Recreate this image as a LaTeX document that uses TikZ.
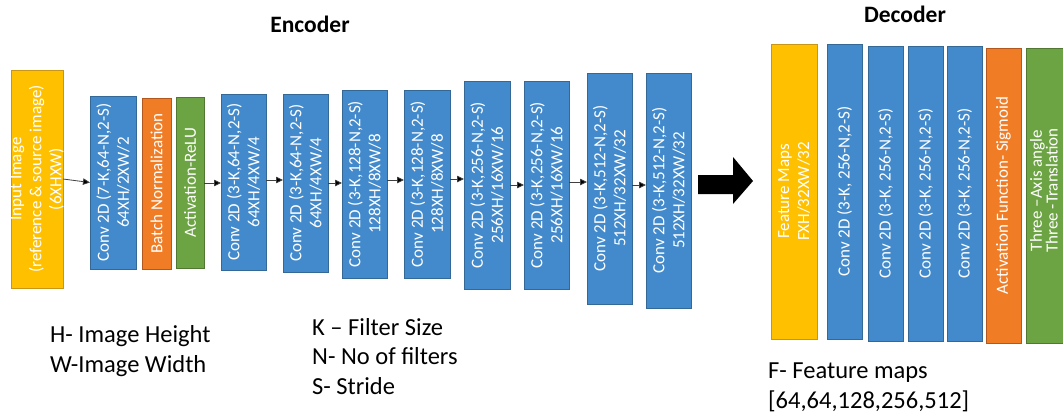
\documentclass[tikz,border=0pt]{standalone}
\usepackage{fontspec}
\setmainfont{Carlito}
\usetikzlibrary{arrows.meta,calc}
\definecolor{bfill}{RGB}{66,138,204}
\definecolor{bdraw}{RGB}{52,104,150}
\definecolor{ofill}{RGB}{240,125,38}
\definecolor{odraw}{RGB}{178,88,30}
\definecolor{yfill}{RGB}{255,192,0}
\definecolor{ydraw}{RGB}{200,150,20}
\definecolor{gfill}{RGB}{108,163,67}
\definecolor{gdraw}{RGB}{80,120,50}
\tikzset{
  blk/.style={draw, line width=0.8pt, inner sep=0pt, outer sep=0pt},
  bluebox/.style={blk, fill=bfill, draw=bdraw},
  orangebox/.style={blk, fill=ofill, draw=odraw},
  yellowbox/.style={blk, fill=yfill, draw=ydraw},
  greenbox/.style={blk, fill=gfill, draw=gdraw},
  vtxt/.style={rotate=90, text=white, align=center, inner sep=0pt, font=\fontsize{17}{20}\selectfont},
  arr/.style={draw=black!75, line width=0.8pt, -{Triangle[length=7pt,width=6.5pt,fill=black]}},
  legend/.style={anchor=base west, inner sep=0pt, align=left, font=\fontsize{24.5}{29.5}\selectfont},
  title/.style={anchor=base, inner sep=0pt, font=\fontsize{23.5}{28}\bfseries\selectfont}
}
\begin{document}
\begin{tikzpicture}[x=1pt,y=-1pt]
\useasboundingbox (0,0) rectangle (1063,420);
\clip (0,0) rectangle (1063,420);
\fill[white] (0,0) rectangle (1063,420);

% titles
\node[title] (enc) at (310,33) {Encoder};
\node[title] (dec) at (905,23) {Decoder};

% encoder blocks
\node[yellowbox, minimum width=52pt, minimum height=218pt] (in) at (37,179) {};
\node[vtxt] (tin) at (in.center) {Input Image\\(reference \& source image)\\(6XHXW)};
\node[bluebox, minimum width=46pt, minimum height=173pt] (c1) at (113,182.5) {};
\node[vtxt] (tc1) at (c1.center) {Conv 2D (7-K,64-N,2-S)\\64XH/2XW/2};
\node[orangebox, minimum width=29pt, minimum height=171pt] (bn) at (156.5,183.5) {};
\node[vtxt] (tbn) at (bn.center) {Batch Normalization};
\node[greenbox, minimum width=28pt, minimum height=171pt] (relu) at (190,182.5) {};
\node[vtxt] (trelu) at (relu.center) {Activation-ReLU};
\node[bluebox, minimum width=45pt, minimum height=176pt] (c2) at (243.5,182) {};
\node[vtxt] (tc2) at (c2.center) {Conv 2D (3-K,64-N,2-S)\\64XH/4XW/4};
\node[bluebox, minimum width=45pt, minimum height=178pt] (c3) at (305.5,183) {};
\node[vtxt] (tc3) at (c3.center) {Conv 2D (3-K,64-N,2-S)\\64XH/4XW/4};
\node[bluebox, minimum width=45pt, minimum height=188pt] (c4) at (364.5,184) {};
\node[vtxt] (tc4) at (c4.center) {Conv 2D (3-K,128-N,2-S)\\128XH/8XW/8};
\node[bluebox, minimum width=46pt, minimum height=188pt] (c5) at (427,184) {};
\node[vtxt] (tc5) at (c5.center) {Conv 2D (3-K,128-N,2-S)\\128XH/8XW/8};
\node[bluebox, minimum width=46pt, minimum height=208pt] (c6) at (487,185) {};
\node[vtxt] (tc6) at (c6.center) {Conv 2D (3-K,256-N,2-S)\\256XH/16XW/16};
\node[bluebox, minimum width=45pt, minimum height=208pt] (c7) at (546.5,185) {};
\node[vtxt] (tc7) at (c7.center) {Conv 2D (3-K,256-N,2-S)\\256XH/16XW/16};
\node[bluebox, minimum width=45pt, minimum height=231pt] (c8) at (609.5,188.5) {};
\node[vtxt] (tc8) at (c8.center) {Conv 2D (3-K,512-N,2-S)\\512XH/32XW/32};
\node[bluebox, minimum width=45pt, minimum height=235pt] (c9) at (668.5,190.5) {};
\node[vtxt] (tc9) at (c9.center) {Conv 2D (3-K,512-N,2-S)\\512XH/32XW/32};

% encoder arrows
\draw[arr] (in.east) -- (c1.west);
\draw[arr] (relu.east |- 0,183) -- (c2.west |- 0,183);
\draw[arr] (c2.east |- 0,180) -- (c3.west |- 0,180);
\draw[arr] (c3.east |- 0,183) -- (c4.west |- 0,183);
\draw[arr] (c4.east |- 0,180) -- (c5.west |- 0,180);
\draw[arr] (c5.east |- 0,179) -- (c6.west |- 0,179);
\draw[arr] (c6.east |- 0,185) -- (c7.west |- 0,185);
\draw[arr] (c7.east |- 0,182) -- (c8.west |- 0,182);
\draw[arr] (c8.east |- 0,185) -- (c9.west |- 0,185);

% big arrow
\fill[black] (698,175) -- (733,175) -- (733,157) -- (753,181) -- (733,204) -- (733,194) -- (698,194) -- cycle;

% decoder blocks
\node[yellowbox, minimum width=46pt, minimum height=295pt] (fm) at (794,191.5) {};
\node[vtxt] (tfm) at (fm.center) {Feature Maps\\FXH/32XW/32};
\node[bluebox, minimum width=35pt, minimum height=295pt] (d1) at (844.5,191.5) {};
\node[vtxt] (td1) at (d1.center) {Conv 2D (3-K, 256-N,2-S)};
\node[bluebox, minimum width=35pt, minimum height=295pt] (d2) at (885.5,193.5) {};
\node[vtxt] (td2) at (d2.center) {Conv 2D (3-K, 256-N,2-S)};
\node[bluebox, minimum width=35pt, minimum height=295pt] (d3) at (925.5,193.5) {};
\node[vtxt] (td3) at (d3.center) {Conv 2D (3-K, 256-N,2-S)};
\node[bluebox, minimum width=35pt, minimum height=295pt] (d4) at (964.5,193.5) {};
\node[vtxt] (td4) at (d4.center) {Conv 2D (3-K, 256-N,2-S)};
\node[orangebox, minimum width=35pt, minimum height=295pt] (sig) at (1003.5,195.5) {};
\node[vtxt] (tsig) at (sig.center) {Activation Function- Sigmoid};
\node[greenbox, minimum width=46pt, minimum height=295pt] (out) at (1049,195.5) {};
\node[vtxt, font=\fontsize{17}{14.5}\selectfont] (tout) at ($(out.center)+(-5,-5)$) {Three --Axis angle\\Three -Translation};

% legends
\node[legend] (lhw) at (50,372) {H- Image Height\\W-Image Width};
\node[legend] (lkns) at (312,394) {K -- Filter Size\\N- No of filters\\S- Stride};
\node[legend] (lf) at (768,408) {F- Feature maps\\{[64,64,128,256,512]}};
\end{tikzpicture}
\end{document}
